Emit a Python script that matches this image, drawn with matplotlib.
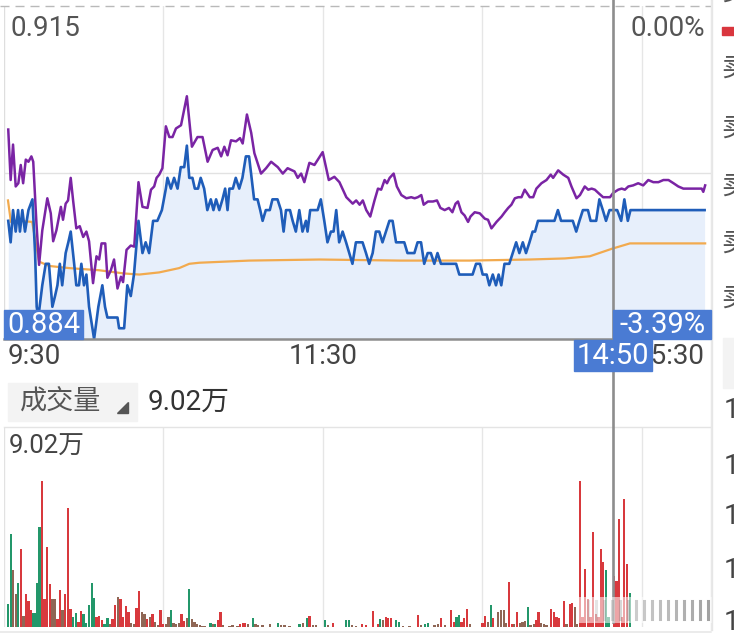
import matplotlib
matplotlib.use('Agg')
import matplotlib.pyplot as plt
from matplotlib.patches import Rectangle, Polygon
from matplotlib.lines import Line2D

plt.rcParams['font.family'] = ['Roboto', 'Noto Sans CJK SC', 'DejaVu Sans']

# ---------------- data ----------------
price_top = 0.915
price_bottom = 0.884
pct_top_label = '0.00%'
session_minutes = 266
grid_minutes = [60, 120, 180, 240]
time_labels = ['9:30', '11:30', '15:30']
time_label_minutes = [0, 120, 266]
cross_minute = 229
cross_time = '14:50'
cross_price = 0.884
vol_top = 9.02
vol_top_label = '9.02万'
vol_title = '成交量'
vol_current_label = '9.02万'

price_t = [1.6, 2.5, 3.4, 4.4, 5.3, 6.0, 6.9, 7.9, 9.2, 10.7,
           11.7, 12.3, 12.9, 14.4, 15.7, 16.9, 18.2, 19.2, 20.1, 21.0,
           21.9, 23.2, 24.2, 25.1, 26.4, 27.2, 28.2, 29.1, 30.1, 31.0,
           32.0, 33.9, 35.5, 37.0, 38.0, 38.9, 40.8, 42.7, 43.3, 45.2,
           46.4, 47.7, 48.9, 50.6, 52.1, 53.3, 54.6, 56.1, 57.7, 59.4,
           60.9, 61.5, 62.8, 64.0, 65.3, 66.5, 67.8, 68.8, 69.7, 70.9,
           71.8, 73.0, 74.0, 75.3, 76.5, 77.8, 78.8, 79.8, 81.0, 82.2,
           83.2, 84.1, 84.8, 86.1, 87.2, 88.5, 89.7, 91.0, 92.2, 94.1,
           95.4, 96.4, 97.3, 98.5, 100.0, 101.0, 102.9, 104.2, 105.2, 106.1,
           107.6, 108.6, 109.8, 111.1, 112.3, 113.6, 114.2, 115.2, 118.0, 119.2,
           120.5, 121.7, 123.0, 124.0, 125.0, 126.1, 127.4, 128.7, 129.9, 131.1,
           132.4, 134.9, 136.2, 137.4, 138.7, 139.9, 141.2, 142.4, 143.7, 145.0,
           146.2, 147.5, 150.6, 151.8, 154.4, 155.6, 156.9, 158.1, 159.4, 160.6,
           161.9, 163.1, 164.4, 170.1, 171.3, 176.3, 177.6, 179.1, 180.1, 181.6,
           182.6, 183.9, 185.1, 186.1, 187.1, 188.3, 190.1, 191.4, 192.7, 193.9,
           195.2, 196.4, 197.7, 198.9, 199.8, 200.9, 202.8, 207.1, 208.4, 209.6,
           214.0, 215.3, 216.5, 217.8, 219.7, 220.7, 222.8, 224.0, 225.3, 226.5,
           227.8, 229.0, 230.7, 232.2, 233.4, 234.7, 235.7, 263.6]
price_v = [0.895, 0.893, 0.896, 0.894, 0.896, 0.894, 0.896, 0.894, 0.896, 0.897,
           0.892, 0.887, 0.886, 0.889, 0.891, 0.891, 0.887, 0.888, 0.889, 0.891,
           0.889, 0.892, 0.893, 0.894, 0.891, 0.889, 0.889, 0.891, 0.889, 0.890,
           0.887, 0.884, 0.887, 0.889, 0.887, 0.886, 0.886, 0.886, 0.885, 0.885,
           0.889, 0.888, 0.890, 0.895, 0.892, 0.893, 0.892, 0.895, 0.895, 0.896,
           0.898, 0.899, 0.898, 0.899, 0.898, 0.900, 0.900, 0.902, 0.899, 0.899,
           0.898, 0.898, 0.899, 0.898, 0.896, 0.897, 0.896, 0.897, 0.896, 0.897,
           0.898, 0.896, 0.898, 0.898, 0.899, 0.898, 0.899, 0.901, 0.901, 0.897,
           0.897, 0.896, 0.895, 0.896, 0.896, 0.897, 0.897, 0.896, 0.894, 0.896,
           0.896, 0.895, 0.894, 0.896, 0.894, 0.895, 0.894, 0.896, 0.896, 0.897,
           0.895, 0.893, 0.894, 0.894, 0.896, 0.893, 0.894, 0.893, 0.892, 0.891,
           0.893, 0.893, 0.892, 0.891, 0.892, 0.894, 0.894, 0.893, 0.894, 0.895,
           0.895, 0.893, 0.893, 0.892, 0.892, 0.893, 0.893, 0.891, 0.892, 0.892,
           0.891, 0.892, 0.891, 0.891, 0.890, 0.890, 0.891, 0.891, 0.890, 0.890,
           0.889, 0.890, 0.889, 0.890, 0.889, 0.891, 0.891, 0.892, 0.893, 0.892,
           0.893, 0.892, 0.893, 0.894, 0.894, 0.895, 0.895, 0.895, 0.896, 0.895,
           0.895, 0.894, 0.895, 0.896, 0.896, 0.895, 0.895, 0.897, 0.896, 0.895,
           0.896, 0.896, 0.896, 0.895, 0.897, 0.895, 0.896, 0.896]

avg_t = [1.5, 2.6, 5.7, 10.6, 13.2, 17.0, 24.5, 35.8, 45.2, 50.9, 58.4, 65.9,
         69.7, 73.5, 92.3, 118.7, 148.8, 175.2, 197.8, 211.0, 220.4, 228.7, 235.5, 263.8]
avg_v = [0.8969, 0.8949, 0.8950, 0.8949, 0.8912, 0.8908, 0.8906, 0.8904, 0.8901, 0.8900, 0.8902, 0.8906,
         0.8910, 0.8911, 0.8913, 0.8914, 0.8913, 0.8913, 0.8914, 0.8915, 0.8917, 0.8924, 0.8929, 0.8929]

index_t = [1.6, 2.5, 3.4, 4.4, 5.4, 6.3, 7.2, 8.2, 9.2, 10.3, 11.0,
           12.2, 13.2, 14.4, 16.3, 17.6, 18.5, 19.7, 21.4, 22.2, 23.2, 24.1, 25.1, 26.0, 27.2, 28.5, 29.8, 31.0, 32.0,
           33.5, 34.8, 35.8, 36.7, 38.1, 38.9, 40.2, 41.4, 42.7, 44.0, 44.8, 46.1, 47.7, 49.0,
           50.6, 52.1, 54.0, 55.3, 56.5, 57.4, 58.4, 59.6, 60.9,
           62.2, 63.4, 64.7, 66.6, 68.8, 70.7, 72.8, 74.7, 76.6, 78.5, 80.4, 81.7, 82.9, 84.1, 85.4, 87.3, 88.8, 89.8, 91.4, 93.0, 94.2,
           96.7, 98.6, 100.5, 103.0, 104.9, 106.7, 109.3, 110.5, 111.8, 113.0, 114.9, 116.8, 118.1, 119.9,
           122.2, 124.3, 126.2, 128.8, 131.2, 132.5, 133.8, 135.0, 136.3, 137.8,
           139.4, 140.7, 141.9, 143.2, 144.1, 145.1, 146.6, 147.8, 149.5, 151.4,
           153.2, 154.5, 155.7, 157.0, 157.9, 159.5, 161.4, 162.9, 164.2, 165.8,
           167.4, 168.7, 169.9, 170.8, 172.1, 173.3, 174.6, 175.5, 177.1, 179.0,
           180.9, 182.1, 183.4, 185.3, 187.2, 188.4, 189.7, 190.9, 192.2, 193.5,
           194.7, 195.9, 197.8, 199.1, 200.3, 202.2, 204.1, 205.7, 206.6, 208.5,
           210.4, 212.3, 213.5, 215.4, 216.7, 218.5, 219.8, 221.1, 222.3, 223.6,
           225.4, 228.0, 229.2, 231.1, 232.4, 233.6, 234.9, 236.7, 238.6, 240.5,
           242.4, 244.3, 246.2, 248.1, 250.0, 251.9, 253.7, 255.6, 257.5, 260.0,
           262.5, 263.1, 263.8]
index_v = [0.9035, 0.8988, 0.9021, 0.8982, 0.8985, 0.9002, 0.8985, 0.9007, 0.9005, 0.9010, 0.9005,
           0.8948, 0.8909, 0.8941, 0.8971, 0.8957, 0.8931, 0.8941, 0.8963, 0.8951, 0.8966, 0.8969, 0.8990, 0.8969, 0.8943, 0.8945, 0.8935, 0.8940, 0.8931,
           0.8892, 0.8917, 0.8914, 0.8929, 0.8929, 0.8897, 0.8904, 0.8914, 0.8887, 0.8898, 0.8893, 0.8923, 0.8927, 0.8926,
           0.8986, 0.8963, 0.8962, 0.8979, 0.8982, 0.8990, 0.8993, 0.8999, 0.9038,
           0.9028, 0.9028, 0.9036, 0.9039, 0.9066, 0.9019, 0.9028, 0.9028, 0.9005, 0.9016, 0.9018, 0.9010, 0.9019, 0.9011, 0.9025, 0.9024, 0.9027, 0.9022, 0.9049, 0.9032, 0.9013,
           0.8994, 0.8999, 0.9005, 0.9000, 0.8994, 0.8999, 0.8996, 0.8990, 0.8994, 0.8986, 0.9004, 0.9002, 0.9007, 0.9014,
           0.8988, 0.8991, 0.8986, 0.8972, 0.8966, 0.8969, 0.8965, 0.8969, 0.8960, 0.8954,
           0.8969, 0.8980, 0.8979, 0.8988, 0.8985, 0.8990, 0.8994, 0.8982, 0.8974, 0.8971,
           0.8972, 0.8971, 0.8972, 0.8974, 0.8965, 0.8968, 0.8968, 0.8969, 0.8962, 0.8960,
           0.8962, 0.8958, 0.8966, 0.8968, 0.8958, 0.8955, 0.8949, 0.8954, 0.8958, 0.8957,
           0.8952, 0.8951, 0.8943, 0.8949, 0.8954, 0.8958, 0.8962, 0.8965, 0.8971, 0.8972,
           0.8972, 0.8979, 0.8972, 0.8972, 0.8980, 0.8985, 0.8988, 0.8993, 0.8990, 0.8997,
           0.8993, 0.8990, 0.8982, 0.8971, 0.8974, 0.8982, 0.8979, 0.8980, 0.8979, 0.8976,
           0.8972, 0.8972, 0.8976, 0.8979, 0.8980, 0.8979, 0.8982, 0.8983, 0.8985, 0.8983,
           0.8988, 0.8986, 0.8986, 0.8988, 0.8988, 0.8985, 0.8982, 0.8980, 0.8980, 0.8980,
           0.8980, 0.8977, 0.8983]

vol_t = [1.6, 2.5, 3.4, 4.4, 5.4, 6.4, 7.3, 8.3, 9.2, 10.0,
         11.1, 11.9, 12.6, 13.4, 14.3, 15.2, 16.3, 17.2, 18.2, 19.2,
         20.1, 21.1, 22.0, 23.0, 24.0, 25.0, 26.0, 27.0, 28.0, 29.0,
         29.9, 30.8, 32.0, 33.0, 33.9, 34.8, 35.8, 36.8, 37.8, 38.9,
         39.8, 40.8, 41.8, 42.8, 43.8, 44.8, 45.8, 46.8, 47.9, 48.9,
         49.9, 50.9, 51.9, 52.9, 53.9, 54.9, 55.9, 56.9, 57.9, 58.9,
         59.9, 60.9, 61.9, 62.8, 63.8, 64.8, 65.8, 66.8, 67.8, 68.8,
         69.7, 70.7, 71.7, 72.7, 73.7, 74.7, 75.7, 77.7, 78.6, 79.5,
         80.5, 81.5, 82.5, 84.8, 86.0, 87.9, 88.8, 89.8, 90.8, 91.8,
         93.6, 94.6, 95.6, 97.3, 100.1, 103.1, 104.3, 105.5, 107.4, 111.2,
         112.4, 113.9, 114.9, 116.2, 117.4, 120.8, 121.8, 123.7, 128.7, 129.7,
         131.0, 132.5, 134.8, 136.3, 138.8, 140.7, 141.6, 142.6, 143.6, 144.4,
         145.7, 147.6, 148.6, 150.1, 152.6, 155.7, 157.0, 158.3, 159.5, 162.0,
         163.3, 164.5, 165.8, 168.3, 169.3, 170.2, 171.2, 172.1, 173.1, 174.2,
         175.2, 180.0, 181.0, 182.0, 183.2, 184.0, 186.0, 187.0, 188.0, 189.0,
         190.0, 191.0, 192.0, 193.0, 194.0, 195.1, 196.0, 197.1, 198.1, 199.3,
         200.1, 201.1, 202.1, 203.1, 204.1, 205.8, 206.9, 207.9, 208.9, 210.6,
         211.6, 212.9, 213.8, 214.8, 215.7, 216.7, 217.7, 218.7, 219.7, 220.7,
         221.7, 222.7, 223.7, 224.6, 225.4, 226.4, 227.4, 229.4, 230.4, 231.4,
         232.4, 233.4, 234.4, 235.4]
vol_v = [1.05, 4.2, 2.55, 1.47, 2.0, 3.53, 0.48, 1.47, 1.17, 0.75,
         0.63, 0.63, 2.0, 4.5, 6.58, 1.28, 3.6, 1.95, 1.28, 1.28,
         0.38, 1.65, 0.75, 1.47, 5.37, 0.83, 0.45, 0.63, 0.23, 0.72,
         0.57, 0.18, 0.98, 2.0, 1.29, 0.45, 0.48, 0.30, 0.15, 0.42,
         0.15, 0.38, 0.98, 1.35, 1.28, 0.45, 0.95, 0.68, 0.18, 0.12,
         0.87, 1.61, 0.68, 0.60, 0.38, 0.45, 0.60, 0.23, 0.08, 0.78,
         0.15, 0.15, 0.45, 0.75, 0.18, 0.12, 0.18, 0.60, 0.27, 0.42,
         1.73, 0.38, 0.23, 0.15, 0.10, 0.06, 0.06, 0.18, 0.12, 0.15,
         0.33, 0.68, 0.08, 0.05, 0.08, 0.06, 0.12, 0.18, 0.18, 0.12,
         0.42, 0.15, 0.10, 0.08, 0.12, 0.18, 0.10, 0.08, 0.05, 0.15,
         0.18, 0.41, 0.48, 0.08, 0.08, 0.30, 0.10, 0.18, 0.33, 0.33,
         0.10, 0.06, 0.15, 0.10, 0.72, 0.15, 0.38, 0.30, 0.45, 0.41,
         0.41, 0.30, 0.23, 0.03, 0.05, 0.56, 0.08, 0.15, 0.20, 0.10,
         0.15, 0.42, 0.08, 0.75, 0.23, 0.45, 0.53, 0.23, 0.42, 0.83,
         0.15, 0.18, 0.50, 0.23, 0.98, 0.42, 0.68, 0.78, 0.78, 0.18,
         2.03, 0.15, 0.15, 0.68, 0.18, 0.23, 0.27, 0.90, 0.08, 0.15,
         0.33, 0.68, 0.18, 0.12, 0.08, 0.80, 0.68, 0.45, 0.42, 1.16,
         0.12, 1.05, 1.10, 0.90, 0.15, 6.58, 0.45, 2.60, 1.28, 0.45,
         4.28, 0.60, 0.45, 3.53, 2.93, 2.55, 0.45, 2.28, 2.07, 4.88,
         0.45, 5.76, 2.86, 1.55]
vol_dir = ('g g n n g r n r r r '
           'g g g g r r r r n n '
           'r r n r r r g g r r '
           'g g g g g r r r g g '
           'n r r n r r r r n n '
           'r r n n r n r n n r '
           'r n n g n n n r r n '
           'g n n n n n n g n g '
           'r r n n n n r r r n '
           'g n n n n g n n n g '
           'n g r n n g n r g g '
           'n n r r r r g n r r '
           'r g g n n r n g g n '
           'n r n r r g g r r r '
           'n r r n g r n n n n '
           'r r n r n n n g n n '
           'r r n n n r r r r r '
           'n r r n n r r r r r '
           'r r r r r g g r r r '
           'r r r g').split()

# ---------------- figure ----------------
W, H = 734, 636
fig = plt.figure(figsize=(W / 100, H / 100), dpi=100)
fig.patch.set_facecolor('white')


def frect(x0, y0, x1, y1, **kw):
    r = Rectangle((x0 / W, 1 - y1 / H), (x1 - x0) / W, (y1 - y0) / H,
                  transform=fig.transFigure, **kw)
    fig.add_artist(r)
    return r


def fline(xs, ys, **kw):
    ln = Line2D([x / W for x in xs], [1 - y / H for y in ys],
                transform=fig.transFigure, **kw)
    fig.add_artist(ln)


def ftext(x, y, s, **kw):
    return fig.text(x / W, 1 - y / H, s, **kw)


L, R = 4, 711
PT, PB = 6, 339
VT, VB = 427, 627

GRID = '#e6e6e6'
BLUE_BOX = '#4a7bd3'

# price panel
ax = fig.add_axes([L / W, 1 - PB / H, (R - L) / W, (PB - PT) / H])
ax.set_xlim(0, session_minutes)
ax.set_ylim(price_bottom, price_top)
ax.set_axis_off()
for m in grid_minutes:
    ax.axvline(m, color=GRID, lw=1, zorder=0.5)
ax.axhline((price_top + price_bottom) / 2, color='#e2e2e2', lw=1, zorder=0.5)
ax.axvline(0, color='#dedede', lw=1, zorder=0.5)
ax.fill_between(price_t, price_v, price_bottom, color='#e7effb', lw=0, zorder=1)
ax.plot(avg_t, avg_v, color='#f2aa4e', lw=1.6, zorder=2)
ax.plot(index_t, index_v, color='#7a24a4', lw=1.8, zorder=3)
ax.plot(price_t, price_v, color='#1f5db9', lw=1.9, zorder=4)
ax.plot([0, cross_minute], [cross_price, cross_price], color='#8d8d8d', lw=1.8,
        clip_on=False, zorder=5)

# volume panel
vax = fig.add_axes([L / W, 1 - VB / H, (R - L) / W, (VB - VT) / H])
vax.set_xlim(0, session_minutes)
vax.set_ylim(0, vol_top)
vax.set_axis_off()
for m in grid_minutes:
    vax.axvline(m, color=GRID, lw=1, zorder=0.5)
vax.axvline(0, color='#e2e2e2', lw=1, zorder=0.5)
cmap = {'r': '#d8393d', 'g': '#23976a', 'n': '#8f6655'}
vax.bar(vol_t, vol_v, width=0.85, color=[cmap[c] for c in vol_dir], lw=0, zorder=2)

# frame lines
fline([0, R], [PT, PT], color='#b9b9b9', lw=1, ls=(0, (6.5, 4.3)))
fline([R, R], [0, 630], color='#e4e4e4', lw=1)
fline([L, R], [VT, VT], color='#e4e4e4', lw=1)
fline([0, R], [632, 632], color='#e8e8e8', lw=1.2)

# crosshair
cx, cy = ax.transData.transform((cross_minute, cross_price))
cross_px = cx
fline([cross_px, cross_px], [0, 622], color='#8d8d8d', lw=1.9, zorder=6)

TXT = '#555555'
FS = 20
ftext(10, 28, f'{price_top:.3f}', ha='left', va='center', fontsize=FS, color=TXT)
ftext(705, 28, pct_top_label, ha='right', va='center', fontsize=FS, color=TXT)

# axis time labels
for lab, m in zip(time_labels, time_label_minutes):
    xp = ax.transData.transform((m, price_bottom))[0]
    if m == 0:
        ftext(8, 357, lab, ha='left', va='center', fontsize=FS, color='#444444')
    elif m == session_minutes:
        ftext(705, 357, lab, ha='right', va='center', fontsize=FS, color='#444444')
    else:
        ftext(xp, 357, lab, ha='center', va='center', fontsize=FS, color='#444444')

# crosshair boxes
frect(4, 310, 83, 339, color=BLUE_BOX, zorder=10)
ftext(43.5, 325, f'{cross_price:.3f}', ha='center', va='center', fontsize=21,
      color='white', zorder=11)
pct = (cross_price / price_top - 1) * 100
frect(cross_px, 310, R, 339, color=BLUE_BOX, zorder=10)
ftext((cross_px + R) / 2 + 1, 325, f'{pct:.2f}%', ha='center', va='center',
      fontsize=21, color='white', zorder=11)
frect(cross_px - 39, 340, cross_px + 39, 371, color=BLUE_BOX, zorder=10)
ftext(cross_px, 356, cross_time, ha='center', va='center', fontsize=21,
      color='white', zorder=11)

# volume header
frect(8, 383, 137, 421, color='#f3f3f3', zorder=1)
ftext(20, 402, vol_title, ha='left', va='center', fontsize=19.5, color=TXT)
tri = Polygon([(117 / W, 1 - 413 / H), (128 / W, 1 - 413 / H), (128 / W, 1 - 402 / H)],
              closed=True, transform=fig.transFigure, color='#555555')
fig.add_artist(tri)
ftext(148, 402, vol_current_label, ha='left', va='center', fontsize=FS, color='#333333')
ftext(9, 447, vol_top_label, ha='left', va='center', fontsize=18.5, color='#444444')

# watermark (blurred)
frect(578, 597, 716, 623, color='white', alpha=0.55, lw=0, zorder=7)
for i, xw in enumerate(range(588, 714, 8)):
    a = 0.15 + 0.5 * i / 16
    fline([xw, xw], [601, 619], color='#6a6a6a', lw=2.2, alpha=min(a, 0.75), zorder=8)

# right sidebar (cut off)
frect(R + 1, 0, W, H, color='white', zorder=9)
fline([R + 1, R + 1], [0, 630], color='#e6e6e6', lw=1, zorder=9.5)
frect(722, 27, 738, 35, color='#d9363e', zorder=10)
frect(723, 338, 740, 388, color='#f3f3f3', zorder=10)
for yy in [-8, 68, 128, 186, 243, 298]:
    ftext(721, yy, '卖', ha='left', va='center', fontsize=20, color='#555555', zorder=11)
for yy in [411, 466, 517, 570, 622]:
    ftext(724, yy, '1', ha='left', va='center', fontsize=20, color='#444444', zorder=11)

fig.savefig('out.png', dpi=100)
